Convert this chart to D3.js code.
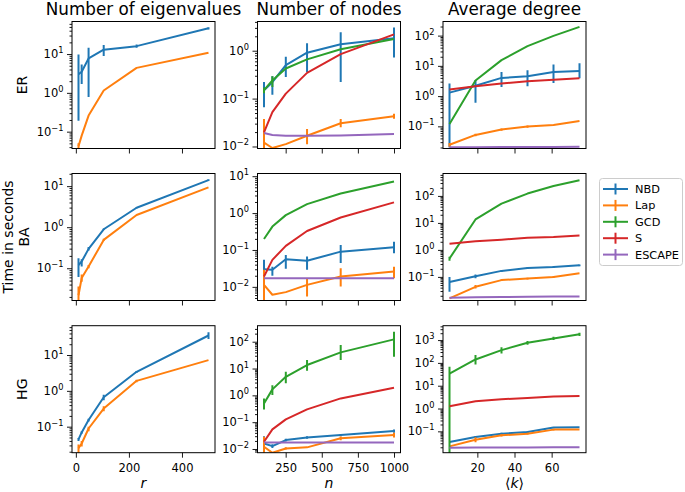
<!DOCTYPE html>
<html><head><meta charset="utf-8">
<script src="https://cdn.jsdelivr.net/npm/d3@7"></script>
<style>body{margin:0;background:#fff} svg{display:block} text{font-family:"DejaVu Sans",sans-serif;fill:#000}</style>
</head><body><svg id="c" width="685" height="492"></svg>
<script>
// ---------- data ----------
const methods = ["NBD", "Lap", "GCD", "S", "ESCAPE"];
const colors = ["#1f77b4", "#ff7f0e", "#2ca02c", "#d62728", "#9467bd"];
const colTitles = ["Number of eigenvalues", "Number of nodes", "Average degree"];
const rowLabels = ["ER", "Time in seconds\nBA", "HG"];
const xLabels = ["r", "n", "⟨k⟩"];

const rValues = [10, 22, 48, 105, 229, 500];
const nValues = [100, 158, 251, 398, 631, 1000];
const kValues = [5, 19, 33, 47, 61, 75];

const xTicksR = [0, 200, 400];
const xTicksN = [250, 500, 750, 1000];
const xTicksK = [20, 40, 60];

const xDomR = [-14.5, 524.5];
const xDomN = [55, 1045];
const xDomK = [1.5, 78.5];

// y-axis limits as log10 exponents [bottom, top], one per panel
const yExpER = [[-1.434, 1.839], [-2.042, 0.61], [-1.733, 2.467]];
const yExpBA = [[-1.786, 1.308], [-2.37, 1.073], [-1.874, 2.83]];
const yExpHG = [[-1.726, 1.818], [-2.138, 2.597], [-1.936, 3.63]];

// points: value or [value, errLow, errHigh] (absolute bounds)
const erEig = {
  NBD: [[3.0, 0.19, 9.8], [3.5, 1.7, 5.4], [7.7, 0.78, 14.6], [13, 8.9, 17.1], [16, 14.5, 17.5], [46, 43, 49]],
  Lap: [[0.042, 0.036, 0.05], 0.079, 0.26, 1.15, 4.4, 10.8]
};
const erNodes = {
  NBD: [[0.149, 0.066, 0.223], [0.22, 0.121, 0.293], [0.5, 0.284, 0.75], [0.91, 0.36, 1.43], [1.36, 0.223, 2.44], [1.82, 0.72, 3.05]],
  Lap: [[0.012, 0.001, 0.0377], 0.0093, 0.0112, [0.0168, 0.0112, 0.0232], [0.0305, 0.0251, 0.0377], [0.0428, 0.038, 0.048]],
  GCD: [[0.15, 0.13, 0.17], [0.24, 0.175, 0.293], 0.425, 0.66, 1.07, 1.76],
  S: [0.0197, 0.052, 0.127, 0.344, 0.85, 2.2],
  ESCAPE: [0.0191, 0.0174, 0.0168, 0.0168, 0.017, 0.0182]
};
const erDegree = {
  NBD: [[1.3, 0.02, 2.6], [2.2, 0.6, 3.4], [4.0, 2.0, 6.3], [4.5, 2.1, 7.2], [6.3, 2.7, 11], [6.7, 3.9, 12.3]],
  Lap: [[0.0245, 0.021, 0.028], [0.052, 0.047, 0.057], [0.078, 0.071, 0.085], [0.098, 0.09, 0.106], 0.111, 0.15],
  GCD: [0.12, 3.3, 15.5, 45, 98, 195],
  S: [1.65, 2.1, 2.6, 3.1, 3.5, 3.9],
  ESCAPE: [0.0205, 0.0205, 0.0206, 0.0207, 0.0208, 0.021]
};
const baEig = {
  NBD: [[0.12, 0.061, 0.176], [0.146, 0.11, 0.166], [0.296, 0.27, 0.33], [0.89, 0.85, 0.93], [2.97, 2.9, 3.05], [14, 13.3, 14.7]],
  Lap: [[0.022, 0.016, 0.036], [0.058, 0.047, 0.07], [0.11, 0.1, 0.12], [0.49, 0.46, 0.52], 1.98, 9.3]
};
const baNodes = {
  NBD: [[0.03, 0.019, 0.054], [0.029, 0.02, 0.035], [0.056, 0.031, 0.073], [0.051, 0.029, 0.066], [0.09, 0.044, 0.136], [0.118, 0.081, 0.168]],
  Lap: [[0.0113, 0.001, 0.029], 0.0061, 0.0072, [0.0113, 0.0055, 0.0172], [0.019, 0.0102, 0.032], [0.026, 0.017, 0.035]],
  GCD: [0.198, 0.43, 0.88, 1.75, 3.4, 7.2],
  S: [0.019, 0.054, 0.129, 0.327, 0.76, 1.95],
  ESCAPE: [0.017, 0.017, 0.017, 0.017, 0.017, 0.017]
};
const baDegree = {
  NBD: [[0.065, 0.028, 0.1], [0.106, 0.09, 0.122], [0.167, 0.155, 0.18], [0.215, 0.2, 0.23], [0.235, 0.215, 0.255], [0.27, 0.25, 0.29]],
  Lap: [0.016, [0.043, 0.037, 0.05], [0.076, 0.07, 0.082], [0.087, 0.08, 0.094], [0.1, 0.093, 0.107], 0.137],
  GCD: [[0.48, 0.4, 0.56], 13.4, 52, 122, 234, 380],
  S: [1.7, 2.1, 2.4, 2.8, 3.0, 3.4],
  ESCAPE: [0.017, 0.0175, 0.018, 0.0185, 0.019, 0.019]
};
const hgEig = {
  NBD: [[0.044, 0.04, 0.048], [0.069, 0.063, 0.075], [0.153, 0.14, 0.166], [0.66, 0.55, 0.78], [3.4, 3.2, 3.6], [35, 28, 43]],
  Lap: [[0.025, 0.018, 0.032], [0.034, 0.028, 0.04], [0.089, 0.075, 0.1], [0.32, 0.27, 0.37], [1.9, 1.75, 2.05], 7.2]
};
const hgNodes = {
  NBD: [[0.016, 0.011, 0.03], [0.0128, 0.011, 0.015], [0.0215, 0.019, 0.024], [0.027, 0.024, 0.03], [0.033, 0.03, 0.036], [0.047, 0.04, 0.053]],
  Lap: [[0.0121, 0.003, 0.0285], 0.0072, [0.0105, 0.0095, 0.0115], 0.0115, [0.025, 0.021, 0.029], [0.033, 0.027, 0.04]],
  GCD: [[0.5, 0.3, 0.77], [1.67, 1.03, 2.4], [4.9, 2.8, 7.6], [13.5, 8.3, 20.7], [40, 20.7, 75], [122, 27.5, 236]],
  S: [0.0186, 0.054, 0.127, 0.3, 0.77, 1.92],
  ESCAPE: [0.0176, 0.0176, 0.0176, 0.0176, 0.0176, 0.0176]
};
const hgDegree = {
  NBD: [0.034, [0.056, 0.05, 0.062], [0.079, 0.072, 0.086], [0.093, 0.085, 0.1], [0.146, 0.135, 0.155], 0.15],
  Lap: [0.022, [0.043, 0.033, 0.055], [0.067, 0.06, 0.074], [0.079, 0.072, 0.086], [0.119, 0.11, 0.128], 0.12],
  GCD: [[34, 0.001, 67], [141, 86, 219], [363, 260, 480], [760, 620, 900], [1180, 1000, 1400], [1800, 1500, 2100]],
  S: [1.26, 2.1, 2.55, 2.9, 3.35, 3.5],
  ESCAPE: [0.0192, 0.0194, 0.0196, 0.0198, 0.02, 0.0202]
};

// ---------- layout ----------
const W = 143, H = 127;
const lefts = [72, 257.5, 443];
const tops = [21.5, 173.5, 325.7];
const TICK_FONT = 11.5;

const colX = [rValues, nValues, kValues];
const colXDom = [xDomR, xDomN, xDomK];
const colXTicks = [xTicksR, xTicksN, xTicksK];
const panelData = [[erEig, erNodes, erDegree], [baEig, baNodes, baDegree], [hgEig, hgNodes, hgDegree]];
const panelYExp = [yExpER, yExpBA, yExpHG];

const svg = d3.select("#c");

function logLabel(sel, e) {
  sel.append("tspan").text("10");
  sel.append("tspan").attr("dy", -5).attr("font-size", TICK_FONT * 0.72)
     .text(String(e).replace("-", "\u2212"));
}

panelData.forEach((rowData, row) => {
  rowData.forEach((data, col) => {
    const x0 = lefts[col], y0 = tops[row];
    const xs = d3.scaleLinear().domain(colXDom[col]).range([x0, x0 + W]);
    const [e0, e1] = panelYExp[row][col];
    const ys = d3.scaleLog().domain([10 ** e0, 10 ** e1]).range([y0 + H, y0]);
    const g = svg.append("g");
    const cid = `clip${row}${col}`;
    svg.append("clipPath").attr("id", cid).append("rect")
      .attr("x", x0).attr("y", y0).attr("width", W).attr("height", H);

    // y ticks
    const majors = [], minors = [];
    for (let e = Math.floor(e0); e <= Math.ceil(e1); e++) {
      if (e >= e0 && e <= e1) majors.push(e);
      for (let m = 2; m <= 9; m++) {
        const v = m * 10 ** e;
        if (Math.log10(v) >= e0 && Math.log10(v) <= e1) minors.push(v);
      }
    }
    const yAxisMinor = d3.axisLeft(ys).tickValues(minors).tickSize(2.5).tickFormat("");
    const gyMin = g.append("g").attr("transform", `translate(${x0},0)`).call(yAxisMinor);
    const yAxisMajor = d3.axisLeft(ys).tickValues(majors.map(e => 10 ** e)).tickSize(5).tickFormat("");
    const gy = g.append("g").attr("transform", `translate(${x0},0)`).call(yAxisMajor);
    [gyMin, gy].forEach(a => { a.select(".domain").remove(); a.selectAll("line").attr("stroke", "#000").attr("stroke-width", 0.9); });
    majors.forEach(e => {
      const t = g.append("text").attr("x", x0 - 8.5).attr("y", ys(10 ** e) + 4)
        .attr("text-anchor", "end").attr("font-size", TICK_FONT);
      logLabel(t, e);
    });

    // x ticks
    const xAxis = d3.axisBottom(xs).tickValues(colXTicks[col]).tickSize(5).tickFormat(row === 2 ? d3.format("d") : "");
    const gx = g.append("g").attr("transform", `translate(0,${y0 + H})`).call(xAxis);
    gx.select(".domain").remove();
    gx.selectAll("line").attr("stroke", "#000").attr("stroke-width", 0.9);
    gx.selectAll("text").attr("font-size", TICK_FONT).attr("font-family", "DejaVu Sans").attr("dy", "0.95em").attr("fill", "#000");

    // series
    const plot = g.append("g").attr("clip-path", `url(#${cid})`);
    methods.forEach((m, i) => {
      const pts = data[m];
      if (!pts) return;
      const rows = pts.map((p, j) => {
        const v = Array.isArray(p) ? p[0] : p;
        return {x: colX[col][j], v, lo: Array.isArray(p) ? p[1] : null, hi: Array.isArray(p) ? p[2] : null};
      });
      const line = d3.line().x(d => xs(d.x)).y(d => ys(d.v));
      plot.append("path").datum(rows).attr("d", line).attr("fill", "none")
        .attr("stroke", colors[i]).attr("stroke-width", 2).attr("stroke-linejoin", "round");
      const ymin = 10 ** e0;
      plot.selectAll(null).data(rows.filter(d => d.lo !== null)).enter().append("line")
        .attr("x1", d => xs(d.x)).attr("x2", d => xs(d.x))
        .attr("y1", d => ys(Math.max(d.lo, ymin * 0.5))).attr("y2", d => ys(d.hi))
        .attr("stroke", colors[i]).attr("stroke-width", 2);
    });

    // frame
    g.append("rect").attr("x", x0).attr("y", y0).attr("width", W).attr("height", H)
      .attr("fill", "none").attr("stroke", "#000").attr("stroke-width", 1);

    if (row === 0) {
      svg.append("text").attr("x", x0 + W / 2).attr("y", 14.5).attr("text-anchor", "middle")
        .attr("font-size", 16.8).text(colTitles[col]);
    }
    if (row === 2) {
      const xl = svg.append("text").attr("x", x0 + W / 2).attr("y", 488).attr("text-anchor", "middle")
        .attr("font-size", 14);
      if (col === 2) {
        xl.append("tspan").text("⟨");
        xl.append("tspan").attr("font-style", "italic").text("k");
        xl.append("tspan").text("⟩");
      } else {
        xl.attr("font-style", "italic").text(xLabels[col]);
      }
    }
    if (col === 0) {
      const lines = rowLabels[row].split("\n");
      const cy = y0 + H / 2;
      const t = svg.append("text").attr("transform", `translate(${lines.length > 1 ? 28.5 : 27},${cy}) rotate(-90)`)
        .attr("text-anchor", "middle").attr("font-size", 14);
      lines.forEach((ln, k) => {
        t.append("tspan").attr("x", 0).attr("dy", k === 0 ? -(lines.length - 1) * 16 : 16).text(ln);
      });
    }
  });
});

// legend
const lg = svg.append("g");
lg.append("rect").attr("x", 599.5).attr("y", 178.5).attr("width", 83).attr("height", 87).attr("rx", 3)
  .attr("fill", "#fff").attr("fill-opacity", 0.8).attr("stroke", "#ccc").attr("stroke-width", 1);
methods.forEach((m, i) => {
  const y = 189 + i * 16.4;
  lg.append("line").attr("x1", 603).attr("x2", 628).attr("y1", y).attr("y2", y).attr("stroke", colors[i]).attr("stroke-width", 2);
  lg.append("line").attr("x1", 615.5).attr("x2", 615.5).attr("y1", y - 5.5).attr("y2", y + 5.5).attr("stroke", colors[i]).attr("stroke-width", 2);
  lg.append("text").attr("x", 635).attr("y", y + 4).attr("font-size", 11.3).text(m);
});
</script></body></html>
